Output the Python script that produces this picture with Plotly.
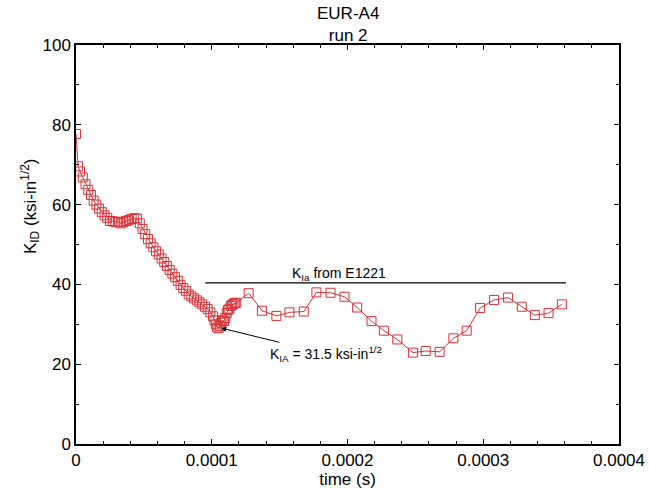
import plotly.graph_objects as go

# dense portion: time in microseconds (converted to s below), K_ID values
t_dense_us = [0.0, 1.5, 3, 5, 7, 9, 11, 13, 15, 17, 19, 21, 23, 25, 27, 29, 31, 33, 35,
              37, 39, 41, 43, 45, 47, 49, 51, 53, 55, 57, 59, 61, 63, 65, 67, 69, 71,
              73, 75, 77, 79, 81, 83, 85, 87, 89, 91, 93, 95, 97, 99, 101, 102, 103,
              104, 105, 106, 107, 108, 109, 110, 111, 112, 113, 114, 115, 116, 117, 118]
k_dense = [77.7, 69.6, 68.3, 66.8, 65.1, 63.7, 62.4, 61.0, 60.0, 59.0, 58.1, 57.3,
           56.7, 55.9, 55.8, 55.6, 55.7, 55.3, 55.6, 55.9, 56.1, 56.4, 56.6, 56.5,
           55.3, 53.9, 52.6, 51.4, 50.3, 49.3, 48.3, 47.5, 46.5, 45.6, 44.6, 43.6,
           42.7, 41.8, 40.9, 39.9, 39.1, 38.4, 37.5, 37.0, 36.5, 36.0, 35.5, 35.0,
           34.4, 33.8, 33.0, 32.0, 31.0, 30.0, 29.2, 29.0, 29.6, 30.4, 31.0, 30.8,
           31.6, 32.8, 33.6, 33.9, 34.6, 34.9, 35.1, 35.3, 35.4]

# sparse portion (time in units of 1e-4 s)
t_sparse_e4 = [1.272, 1.370, 1.476, 1.572, 1.678, 1.771, 1.875, 1.978, 2.071, 2.177,
               2.268, 2.367, 2.482, 2.576, 2.679, 2.780, 2.878, 2.977, 3.080, 3.183,
               3.284, 3.380, 3.481, 3.579]
k_sparse = [37.8, 33.4, 32.1, 33.0, 33.2, 38.0, 37.9, 36.9, 34.2, 30.8,
            28.4, 26.2, 22.9, 23.3, 23.1, 26.5, 28.4, 34.1, 36.1, 36.7,
            34.4, 32.3, 32.8, 35.0]

t_all = [v * 1e-6 for v in t_dense_us] + [v * 1e-4 for v in t_sparse_e4]
k_all = k_dense + k_sparse

# E1221 K_Ia reference line
kia_line_t = [0.952e-4, 3.61e-4]
kia_line_k = 40.4
kia_label_t = 1.934e-4

# arrest point annotation
arrest_t = 1.063e-4
arrest_k = 29.1
arrest_label_t = 1.845e-4
arrest_label_k = 22.6

x_tickvals = [0, 0.0001, 0.0002, 0.0003, 0.0004]
x_ticktext = ["0", "0.0001", "0.0002", "0.0003", "0.0004"]
y_tickvals = [0, 20, 40, 60, 80, 100]

RED = "#d41c24"
FONT = "Liberation Sans, Arial, sans-serif"

fig = go.Figure()
fig.add_trace(go.Scatter(
    x=t_all, y=k_all, mode="lines+markers",
    line=dict(color=RED, width=1),
    marker=dict(symbol="square-open", size=9, color=RED, line=dict(width=1, color=RED)),
    opacity=0.9,
    showlegend=False,
))

fig.add_shape(type="line", xref="x", yref="y",
              x0=kia_line_t[0], x1=kia_line_t[1], y0=kia_line_k, y1=kia_line_k,
              line=dict(color="black", width=1.2))

fig.add_annotation(x=kia_label_t, y=kia_line_k,
                   xref="x", yref="y", yanchor="bottom", yshift=-2,
                   text="K<sub>Ia</sub> from E1221", showarrow=False,
                   font=dict(size=14, color="black", family=FONT))

fig.add_annotation(x=arrest_t, y=arrest_k, xref="x", yref="y",
                   ax=arrest_label_t, ay=arrest_label_k, axref="x", ayref="y",
                   text="K<sub>IA</sub> = 31.5 ksi-in<sup>1/2</sup>",
                   showarrow=True, arrowhead=2, arrowsize=1, arrowwidth=1,
                   arrowcolor="black", standoff=1,
                   font=dict(size=14, color="black", family=FONT))

fig.add_annotation(x=0.5, y=1, xref="paper", yref="paper", yanchor="bottom",
                   yshift=-2, text="EUR-A4<br>run 2", showarrow=False,
                   font=dict(size=17, color="black", family=FONT))

fig.add_annotation(x=-0.085, y=0.596, xref="paper", yref="paper",
                   xanchor="center", yanchor="middle",
                   text="K<sub>ID</sub> (ksi-in<sup>1/2</sup>)", textangle=-90,
                   showarrow=False, font=dict(size=17, color="black", family=FONT))

axis_common = dict(showline=True, linecolor="black", linewidth=1.5, mirror="ticks",
                   ticks="inside", ticklen=5, tickcolor="black", showgrid=False,
                   zeroline=False, automargin=False,
                   tickfont=dict(size=17, color="black", family=FONT))

fig.update_xaxes(range=[0, 0.0004], tickvals=x_tickvals, ticktext=x_ticktext,
                 minor=dict(ticks="inside", dtick=0.00002, ticklen=3, tickcolor="black"),
                 title=dict(text="time (s)", font=dict(size=17, color="black", family=FONT), standoff=2),
                 **axis_common)
fig.update_yaxes(range=[0, 100], tickvals=y_tickvals,
                 minor=dict(ticks="inside", dtick=10, ticklen=3, tickcolor="black"),
                 **axis_common)

fig.update_layout(width=649, height=496, margin=dict(l=76, r=30, t=45, b=52),
                  plot_bgcolor="white", paper_bgcolor="white",
                  font=dict(family=FONT, color="black"))

fig.write_html("out.html")
